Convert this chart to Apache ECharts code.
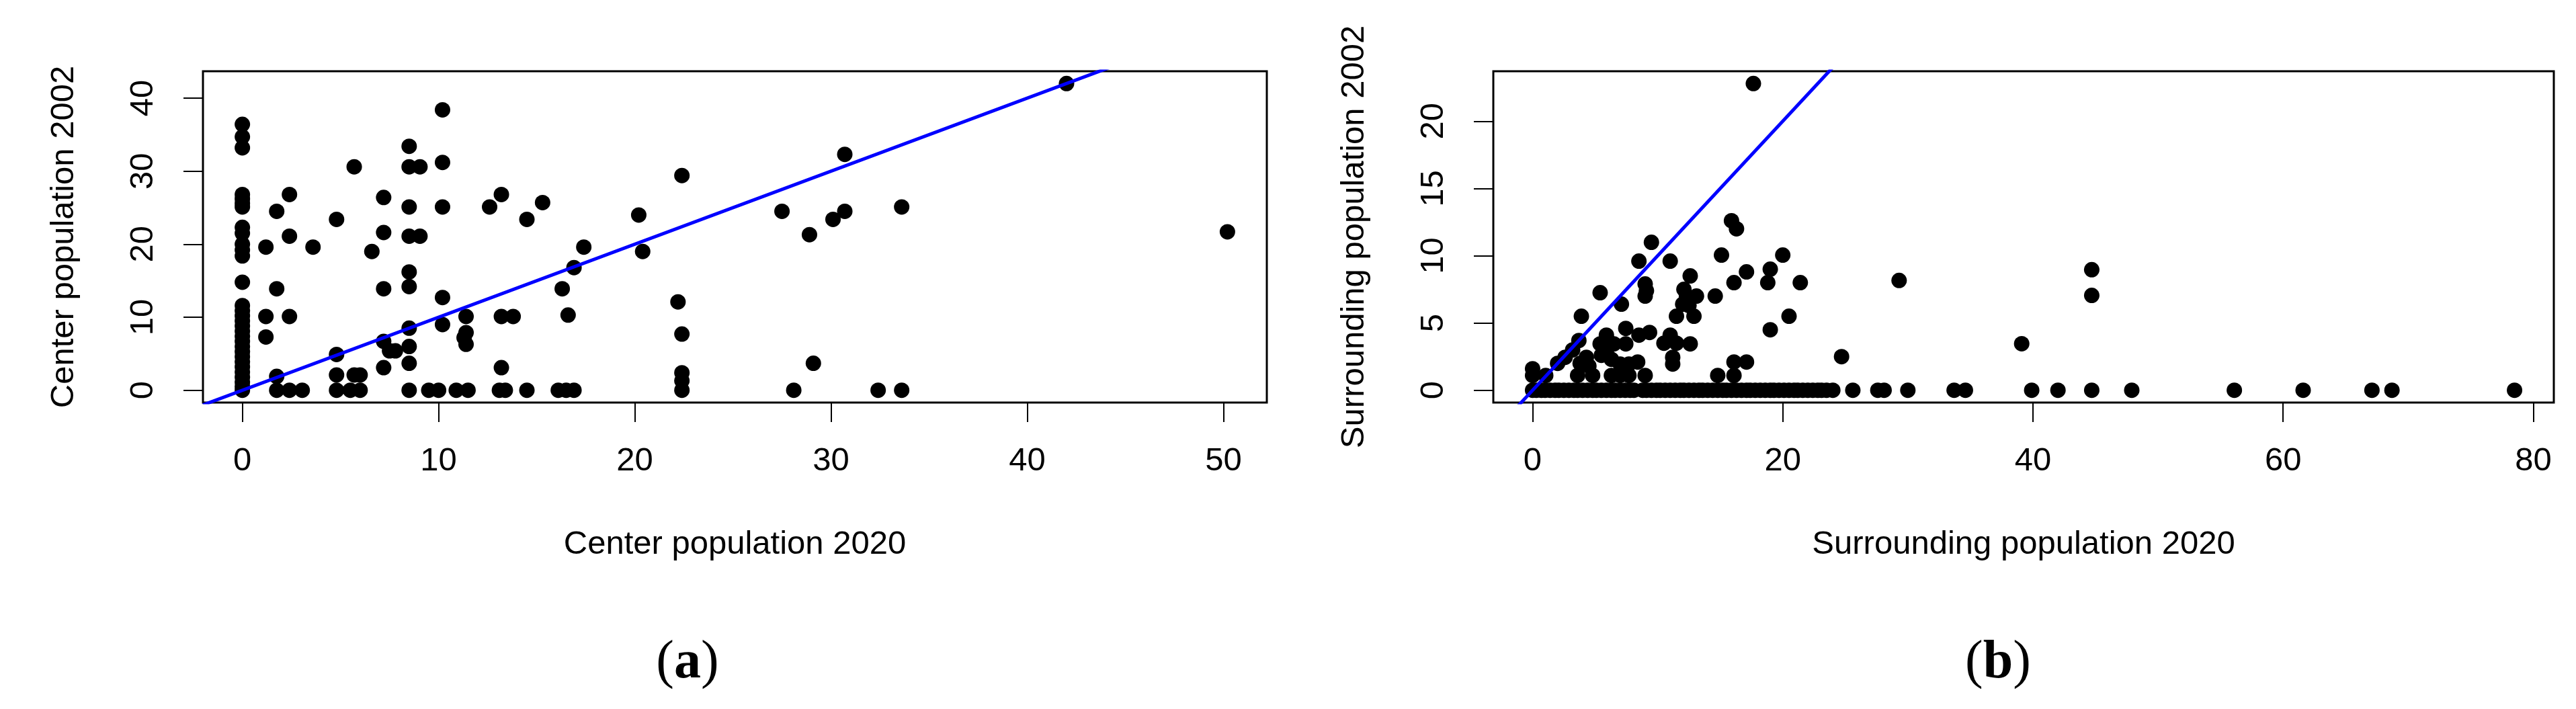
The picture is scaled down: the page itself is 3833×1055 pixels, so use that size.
<!DOCTYPE html>
<html>
<head>
<meta charset="utf-8">
<title>Center and surrounding population 2002 vs 2020</title>
<script src="https://cdn.jsdelivr.net/npm/echarts@6.0.0/dist/echarts.min.js"></script>
<style>
html, body { margin: 0; padding: 0; background: #fff; }
#main { width: 3833px; height: 1055px; }
</style>
</head>
<body>
<div id="main"></div>
<script>
// panel (a): [center population 2020, center population 2002]
var centerPoints = [
  [0,36.4],[0,34.7],[0,33.2],[0,26.8],[0,26.2],[0,25.6],[0,25.1],[0,22.3],[0,21.5],[0,20.0],
  [0,19.2],[0,18.4],[0,14.8],[0,11.6],[0,10.9],[0,10.2],[0,9.5],[0,8.8],[0,8.1],[0,7.4],
  [0,6.7],[0,6.0],[0,5.3],[0,4.6],[0,3.9],[0,3.2],[0,2.5],[0,1.8],[0,1.1],[0,0.5],[0,0],
  [1.2,19.6],[1.2,10.1],[1.2,7.3],
  [1.75,24.5],[1.75,13.9],[1.75,1.9],[1.75,0],
  [2.4,26.8],[2.4,21.1],[2.4,10.1],[2.4,0],
  [3.05,0],[3.6,19.6],
  [4.8,23.4],[4.8,4.9],[4.8,2.1],[4.8,0],
  [5.7,30.6],[5.7,2.1],[5.5,0],[6.0,2.1],[6.0,0],
  [6.6,19.0],
  [7.2,26.4],[7.2,21.6],[7.2,13.9],[7.2,6.7],[7.2,3.1],[7.5,5.4],[7.8,5.4],
  [8.5,33.4],[8.5,30.6],[8.5,25.1],[8.5,21.1],[8.5,16.2],[8.5,14.2],[8.5,8.5],[8.5,6.0],[8.5,3.7],[8.5,0],
  [9.05,30.6],[9.05,21.1],[9.5,0],[10.0,0],
  [10.2,38.4],[10.2,31.2],[10.2,25.1],[10.2,12.7],[10.2,9.0],
  [10.9,0],[11.4,10.1],[11.4,7.9],[11.3,7.2],[11.4,6.3],[11.5,0],
  [12.6,25.1],
  [13.2,26.8],[13.2,10.1],[13.2,3.1],[13.1,0],[13.4,0],[13.8,10.1],
  [14.5,23.4],[14.5,0],[15.3,25.7],
  [16.1,0],[16.5,0],[16.9,0],[16.3,13.9],[16.6,10.3],[16.9,16.8],[17.4,19.6],
  [20.2,24.0],[20.4,19.0],
  [22.2,12.1],[22.4,29.4],[22.4,7.7],[22.4,2.4],[22.4,1.3],[22.4,0],
  [27.5,24.5],[28.1,0],[28.9,21.3],[29.1,3.7],[30.1,23.4],[30.7,32.3],[30.7,24.5],
  [32.4,0],[33.6,25.1],[33.6,0],
  [42.0,42.0],[50.2,21.7]
];

// panel (b): [surrounding population 2020, surrounding population 2002], points above zero
var surroundPoints = [
  [17.65,22.8],[15.9,12.6],[16.3,12.0],[9.5,11.0],[8.5,9.6],[11.0,9.6],
  [15.1,10.05],[20.0,10.05],[12.6,8.5],[17.1,8.8],[19.0,9.0],
  [16.1,8.0],[18.8,8.0],[21.4,8.0],[9.0,7.9],[9.1,7.4],[9.0,7.0],[5.4,7.25],
  [12.1,7.5],[12.3,7.0],[13.1,7.0],[14.6,7.0],[7.1,6.4],[12.0,6.4],[12.5,6.3],
  [3.9,5.5],[11.5,5.5],[12.9,5.5],[20.5,5.5],[19.0,4.5],[7.45,4.6],
  [8.5,4.1],[9.35,4.3],[11.0,4.1],[10.5,3.5],[11.5,3.5],[12.6,3.45],
  [5.9,4.1],[5.4,3.45],[6.0,3.7],[6.5,3.45],[7.45,3.45],[5.9,2.95],[6.3,2.3],[5.5,2.6],
  [3.7,3.7],[3.2,3.0],[2.0,2.0],[2.6,2.45],
  [11.2,2.45],[11.2,1.95],[16.1,2.1],[17.1,2.1],[14.8,1.1],[16.1,1.1],
  [0,1.6],[0,1.1],[1.05,1.1],
  [4.3,2.45],[3.8,2.0],[4.5,1.8],[3.6,1.1],[4.8,1.1],
  [7.0,1.95],[7.7,1.95],[8.4,2.1],[6.3,1.1],[7.0,1.1],[7.7,1.1],[9.0,1.1],
  [24.7,2.5],[29.3,8.16],[39.1,3.46],[44.7,8.96],[44.7,7.05]
];

// panel (b): x values of the points lying on zero in 2002
var surroundZeroX = [
  0,0.3,0.7,1.0,1.4,1.8,2.1,2.5,2.9,3.3,3.6,4.0,4.4,4.8,5.1,5.5,5.9,6.3,6.6,7.0,
  7.4,7.8,8.1,8.8,9.1,9.5,9.9,10.2,10.6,11.0,11.4,11.8,12.1,12.5,12.9,13.3,13.6,14.0,
  14.4,14.8,15.2,15.5,15.9,16.3,16.7,17.1,17.4,17.8,18.2,18.6,19.0,19.3,19.7,20.1,
  20.5,20.9,21.2,21.6,22.0,22.4,22.8,23.1,23.5,24.0,
  25.6,27.6,28.1,30.0,33.7,34.6,39.9,42.0,44.7,47.9,56.1,61.6,67.1,68.7,78.5
];

var centerXTicks = [0, 10, 20, 30, 40, 50];
var centerYTicks = [0, 10, 20, 30, 40];
var surroundXTicks = [0, 20, 40, 60, 80];
var surroundYTicks = [0, 5, 10, 15, 20];

var FONT = 'Liberation Sans';
var CAPTION_FONT = 'Liberation Serif';

// R style axis range: data range stretched by 4% on both sides
function rRange(vals) {
  var lo = Math.min.apply(null, vals), hi = Math.max.apply(null, vals);
  var d = (hi - lo) * 0.04;
  return [lo - d, hi + d];
}
function col(pts, k) {
  return pts.map(function (p) { return p[k]; });
}

var surroundAll = surroundPoints.concat(surroundZeroX.map(function (x) { return [x, 0]; }));

var aX = rRange(col(centerPoints, 0)), aY = rRange(col(centerPoints, 1));
var bX = rRange(col(surroundAll, 0)), bY = rRange(col(surroundAll, 1));

function xAxisOf(idx, name, range, ticks) {
  return {
    type: 'value', gridIndex: idx, min: range[0], max: range[1],
    name: name, nameLocation: 'middle', nameGap: 187,
    nameTextStyle: { fontFamily: FONT, fontSize: 49, color: '#000' },
    axisLine: { show: false, onZero: false },
    axisTick: { show: true, length: 29, customValues: ticks, lineStyle: { color: '#000', width: 2 } },
    axisLabel: { show: true, customValues: ticks, margin: 63, fontFamily: FONT, fontSize: 49, color: '#000' },
    splitLine: { show: false }
  };
}
function yAxisOf(idx, name, range, ticks) {
  return {
    type: 'value', gridIndex: idx, min: range[0], max: range[1],
    name: name, nameLocation: 'middle', nameGap: 182, nameRotate: 90,
    nameTextStyle: { fontFamily: FONT, fontSize: 49, color: '#000' },
    axisLine: { show: false, onZero: false },
    axisTick: { show: true, length: 29, customValues: ticks, lineStyle: { color: '#000', width: 2 } },
    axisLabel: { show: true, customValues: ticks, rotate: 90, margin: 64, fontFamily: FONT, fontSize: 49, color: '#000' },
    splitLine: { show: false }
  };
}
function caption(letter, cx) {
  return {
    type: 'text', x: cx, y: 987,
    style: {
      text: '{p|(}{b|' + letter + '}{p|)}',
      align: 'center', verticalAlign: 'middle',
      textAlign: 'center', textVerticalAlign: 'middle',
      rich: {
        p: { fontFamily: CAPTION_FONT, fontSize: 80, fill: '#000' },
        b: { fontFamily: CAPTION_FONT, fontSize: 80, fontWeight: 'bold', fill: '#000' }
      }
    }
  };
}

var chart = echarts.init(document.getElementById('main'), null, { renderer: 'canvas' });
var option = {
  backgroundColor: '#fff',
  animation: false,
  grid: [
    { left: 302, top: 106, width: 1583, height: 493, show: true, borderColor: '#000', borderWidth: 3, backgroundColor: 'transparent' },
    { left: 2222, top: 106, width: 1578, height: 493, show: true, borderColor: '#000', borderWidth: 3, backgroundColor: 'transparent' }
  ],
  xAxis: [
    xAxisOf(0, 'Center population 2020', aX, centerXTicks),
    xAxisOf(1, 'Surrounding population 2020', bX, surroundXTicks)
  ],
  yAxis: [
    yAxisOf(0, 'Center population 2002', aY, centerYTicks),
    yAxisOf(1, 'Surrounding population 2002', bY, surroundYTicks)
  ],
  series: [
    {
      type: 'scatter', xAxisIndex: 0, yAxisIndex: 0, data: centerPoints,
      symbol: 'circle', symbolSize: 23, itemStyle: { color: '#000', opacity: 1 }, silent: true, z: 2
    },
    {
      type: 'line', xAxisIndex: 0, yAxisIndex: 0, data: [[aX[0], aX[0]], [aX[1], aX[1]]],
      symbol: 'none', clip: true, lineStyle: { color: '#0000ff', width: 5 }, silent: true, z: 3
    },
    {
      type: 'scatter', xAxisIndex: 1, yAxisIndex: 1, data: surroundAll,
      symbol: 'circle', symbolSize: 23, itemStyle: { color: '#000', opacity: 1 }, silent: true, z: 2
    },
    {
      type: 'line', xAxisIndex: 1, yAxisIndex: 1, data: [[bX[0], bX[0]], [bX[1], bX[1]]],
      symbol: 'none', clip: true, lineStyle: { color: '#0000ff', width: 5 }, silent: true, z: 3
    }
  ],
  graphic: [caption('a', 1023), caption('b', 2973)]
};
chart.setOption(option);
</script>
</body>
</html>
